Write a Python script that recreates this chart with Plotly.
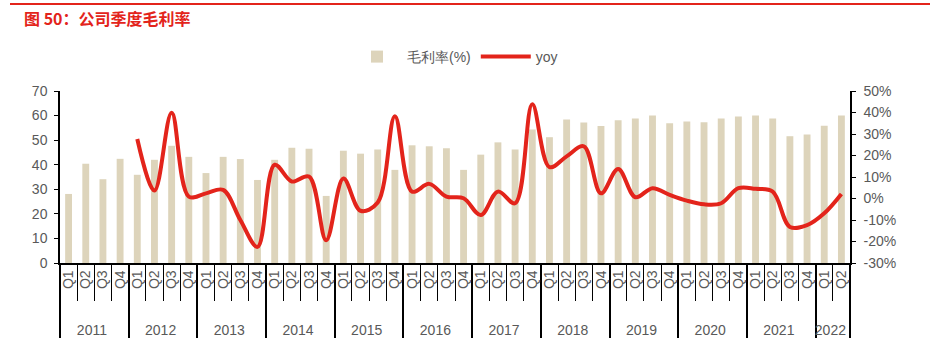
import plotly.graph_objects as go

years = ["2011"] * 4 + ["2012"] * 4 + ["2013"] * 4 + ["2014"] * 4 + ["2015"] * 4 + \
        ["2016"] * 4 + ["2017"] * 4 + ["2018"] * 4 + ["2019"] * 4 + ["2020"] * 4 + \
        ["2021"] * 4 + ["2022"] * 2
quarters = ["Q1", "Q2", "Q3", "Q4"] * 11 + ["Q1", "Q2"]

gross_margin = [28.1, 40.4, 34.1, 42.4,
                35.9, 42.0, 47.7, 43.2,
                36.6, 43.2, 42.3, 33.8,
                42.0, 46.9, 46.5, 27.3,
                45.7, 44.5, 46.2, 37.9,
                47.9, 47.5, 46.7, 37.9,
                44.1, 49.1, 46.2, 54.3,
                51.2, 58.4, 57.2, 55.8,
                58.1, 58.8, 60.0, 56.9,
                57.6, 57.3, 58.8, 59.6,
                60.0, 58.8, 51.6, 52.3,
                55.9, 60.0]

yoy = [None, None, None, None,
       27.7, 3.7, 39.9, 0.9,
       2.4, 4.0, -10.0, -22.5,
       15.7, 7.9, 10.2, -19.4,
       9.3, -5.7, -1.9, 38.3,
       3.2, 6.8, 0.9, 0.1,
       -7.7, 3.2, -2.2, 43.8,
       14.6, 19.6, 24.3, 2.4,
       13.7, 0.6, 4.8, 1.7,
       -1.0, -2.7, -2.2, 4.8,
       4.5, 3.2, -13.2, -12.4,
       -6.9, 2.1]

left_ticks = list(range(0, 71, 10))
right_ticks = list(range(-30, 51, 10))
right_labels = [f"{v}%" for v in right_ticks]

GREY = "#595959"
RED = "#e3241b"
BEIGE = "#ddd4bb"

# outer labels pushed down one line to sit below the rotated quarter labels
year_labels = ["<br>" + y for y in years]

fig = go.Figure()
fig.add_trace(go.Bar(x=[year_labels, quarters], y=gross_margin, name="毛利率(%)",
                     marker=dict(color=BEIGE, line=dict(width=0)), yaxis="y"))
fig.add_trace(go.Scatter(x=[year_labels, quarters], y=yoy, name="yoy", mode="lines",
                         line=dict(color=RED, width=4, shape="spline", smoothing=1),
                         yaxis="y2", connectgaps=False))

fig.update_layout(
    width=930, height=357,
    margin=dict(l=60, r=80, t=91, b=94, autoexpand=False),
    paper_bgcolor="white", plot_bgcolor="white",
    font=dict(family="Liberation Sans, Arial, sans-serif", size=13, color=GREY),
    bargap=0.6,
    showlegend=True,
    legend=dict(orientation="h", x=0.5, xanchor="center", y=1 + (91 - 57) / 172,
                yanchor="middle", font=dict(size=14, color=GREY), itemwidth=50),
    xaxis=dict(type="multicategory", showline=True, linecolor="#000000", linewidth=1.5,
               ticks="outside", tickson="boundaries", ticklen=36, tickcolor="#000000",
               tickwidth=1, tickangle=-90, showdividers=True, dividercolor="#000000",
               dividerwidth=1.5, tickfont=dict(size=14, color=GREY), showgrid=False,
               automargin=False),
    yaxis=dict(range=[0, 70], tickvals=left_ticks, showline=True, linecolor="#000000",
               linewidth=1.5, ticks="outside", ticklen=4, tickcolor="#000000",
               showgrid=False, zeroline=False, tickfont=dict(size=14, color=GREY),
               ticklabelstandoff=4, automargin=False),
    yaxis2=dict(range=[-30, 50], tickvals=right_ticks, ticktext=right_labels,
                overlaying="y", side="right", showline=True, linecolor="#000000",
                linewidth=1.5, ticks="outside", ticklen=4, tickcolor="#000000",
                showgrid=False, zeroline=False, tickfont=dict(size=14, color=GREY),
                ticklabelstandoff=5, automargin=False),
    shapes=[dict(type="line", xref="paper", yref="paper",
                 x0=(10 - 60) / 790, x1=(930 - 60) / 790,
                 y0=1 + (91 - 4) / 172, y1=1 + (91 - 4) / 172,
                 line=dict(color=RED, width=2))],
    annotations=[dict(text="<b>图 50：公司季度毛利率</b>", xref="paper", yref="paper",
                      x=(22 - 60) / 790, y=1 + (91 - 18) / 172, xanchor="left",
                      yanchor="middle", showarrow=False,
                      font=dict(family="Noto Sans CJK SC", size=16, color=RED))],
)

fig.write_html("out.html", config={"displayModeBar": False},
               post_script="document.body.style.margin='0px';")
